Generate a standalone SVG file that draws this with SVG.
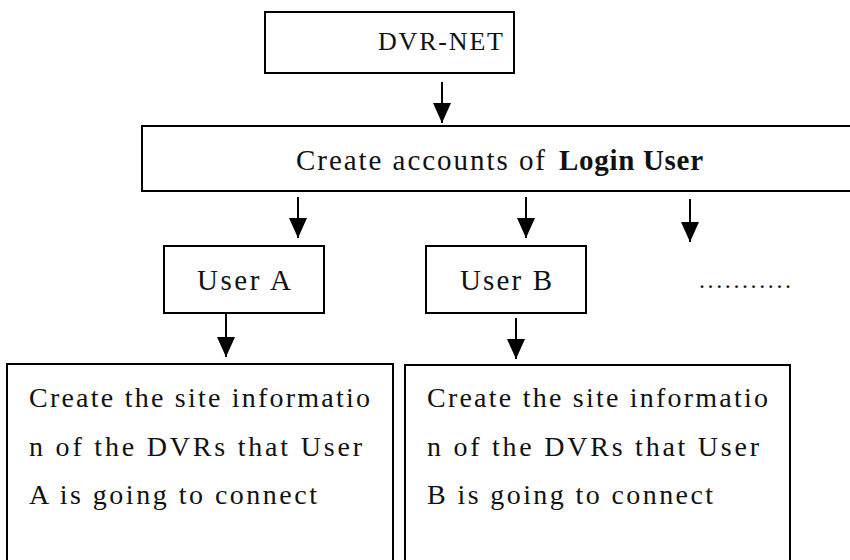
<svg xmlns="http://www.w3.org/2000/svg" width="850" height="560" viewBox="0 0 850 560">
<style>
.box{fill:#fff;stroke:#000;stroke-width:2}
text{font-family:'Liberation Serif','DejaVu Serif',serif;fill:#111}
.c{stroke:#000;stroke-width:2;fill:none;marker-end:url(#ah)}
</style>
<defs>
<marker id="ah" markerUnits="userSpaceOnUse" markerWidth="20" markerHeight="18" refX="20" refY="9" orient="auto">
<path d="M0,0 L20,9 L0,18 z" fill="#000"/>
</marker>
</defs>
<rect width="850" height="560" fill="#fff"/>
<g id="dvrnet">
<rect class="box" x="265" y="12" width="249" height="61"/>
<text x="378" y="50" font-size="26" textLength="125" lengthAdjust="spacing">DVR-NET</text>
</g>
<g id="accounts">
<rect class="box" x="142" y="126" width="720" height="65"/>
<text x="296" y="170" font-size="29" textLength="249" lengthAdjust="spacing">Create accounts of</text>
<text x="559" y="170" font-size="29" font-weight="bold" textLength="144" lengthAdjust="spacing" fill="#000">Login User</text>
</g>
<g id="userA">
<rect class="box" x="164" y="246" width="160" height="67"/>
<text x="197" y="290" font-size="29" textLength="94" lengthAdjust="spacing">User A</text>
</g>
<g id="userB">
<rect class="box" x="426" y="246" width="160" height="67"/>
<text x="460" y="290" font-size="29" textLength="92" lengthAdjust="spacing">User B</text>
</g>
<g id="more">
<text x="699" y="288" font-size="24" textLength="92" lengthAdjust="spacing">...........</text>
</g>
<g id="siteA">
<rect class="box" x="7" y="364" width="386" height="210"/>
<text x="29" y="407" font-size="28" textLength="341" lengthAdjust="spacing">Create the site informatio</text>
<text x="29" y="456" font-size="28" textLength="333" lengthAdjust="spacing">n of the DVRs that User</text>
<text x="29" y="504" font-size="28" textLength="288" lengthAdjust="spacing">A is going to connect</text>
</g>
<g id="siteB">
<rect class="box" x="405" y="365" width="385" height="210"/>
<text x="427" y="407" font-size="28" textLength="341" lengthAdjust="spacing">Create the site informatio</text>
<text x="427" y="456" font-size="28" textLength="332" lengthAdjust="spacing">n of the DVRs that User</text>
<text x="427" y="504" font-size="28" textLength="286" lengthAdjust="spacing">B is going to connect</text>
</g>
<g id="connectors">
<line class="c" x1="442" y1="82" x2="442" y2="123"/>
<line class="c" x1="298" y1="197" x2="298" y2="238"/>
<line class="c" x1="526" y1="197" x2="526" y2="238"/>
<line class="c" x1="690" y1="199" x2="690" y2="242"/>
<line class="c" x1="226" y1="313" x2="226" y2="357"/>
<line class="c" x1="516" y1="318" x2="516" y2="359"/>
</g>
</svg>
